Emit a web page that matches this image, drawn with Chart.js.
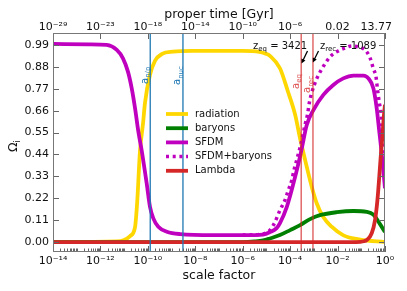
<!DOCTYPE html>
<html>
<head>
<meta charset="utf-8">
<script src="https://cdn.jsdelivr.net/npm/chart.js@4.4.1/dist/chart.umd.min.js"></script>
<style>
  html, body { margin: 0; padding: 0; background: #fff; }
  canvas { display: block; }
</style>
</head>
<body>
<canvas id="omega" width="407" height="291"></canvas>
<script>
// ── Data: log10(scale factor) and density parameter ──
const radiationLogA = [-14, -11.3, -11, -10.75, -10.54, -10.45, -10.33, -10.2, -10.12, -9.91, -9.7, -9.4, -8.94, -8.1, -6, -5.3, -5.0, -4.85, -4.43, -4.09, -3.79, -3.58, -3.3, -3.09, -2.88, -2.61, -2.25, -1.77, -1.05, 0];
const radiationVals = [0, 0.003, 0.01, 0.03, 0.075, 0.2, 0.46, 0.6, 0.7, 0.84, 0.91, 0.945, 0.956, 0.96, 0.96, 0.955, 0.945, 0.935, 0.873, 0.755, 0.64, 0.52, 0.378, 0.278, 0.195, 0.127, 0.077, 0.035, 0.012, 0];

const baryonLogA = [-14, -6, -5.5, -5.14, -4.85, -4.43, -4.0, -3.58, -3.16, -2.74, -2.03, -1.33, -0.77, -0.49, -0.21, 0];
const baryonVals = [0, 0, 0.003, 0.008, 0.018, 0.035, 0.06, 0.085, 0.115, 0.135, 0.15, 0.156, 0.152, 0.138, 0.09, 0.05];

const sfdmLogA = [-14, -12.5, -11.74, -11.31, -11.05, -10.84, -10.68, -10.54, -10.4, -10.26, -10.05, -9.91, -9.77, -9.56, -9.2, -8.64, -7.25, -5.5, -5.14, -4.85, -4.57, -4.43, -4.14, -3.86, -3.65, -3.51, -3.3, -3.02, -2.6, -2.18, -1.76, -1.33, -0.91, -0.7, -0.49, -0.35, -0.24, -0.17, -0.07, 0];
const sfdmVals = [0.995, 0.993, 0.99, 0.965, 0.923, 0.856, 0.772, 0.672, 0.554, 0.46, 0.295, 0.177, 0.119, 0.077, 0.052, 0.04, 0.035, 0.035, 0.037, 0.05, 0.07, 0.095, 0.177, 0.295, 0.395, 0.47, 0.588, 0.663, 0.739, 0.789, 0.822, 0.836, 0.836, 0.822, 0.772, 0.672, 0.554, 0.48, 0.36, 0.27];

const sfdmBaryonLogA = [-6, -5.2, -4.85, -4.64, -4.43, -4.22, -4.08, -3.93, -3.84, -3.75, -3.65, -3.55, -3.37, -3.27, -3.19, -3.09, -2.88, -2.71, -2.32, -1.97, -1.68, -1.4, -1.12, -0.84, -0.63, -0.49, -0.38, -0.32, -0.24, -0.17, -0.14, -0.07, 0];
const sfdmBaryonVals = [0.035, 0.04, 0.06, 0.1, 0.16, 0.21, 0.26, 0.31, 0.36, 0.4, 0.445, 0.49, 0.59, 0.64, 0.7, 0.75, 0.82, 0.86, 0.93, 0.96, 0.975, 0.985, 0.98, 0.965, 0.925, 0.87, 0.83, 0.77, 0.7, 0.65, 0.6, 0.45, 0.32];

const lambdaLogA = [-14, -1.2, -0.9, -0.77, -0.56, -0.42, -0.32, -0.24, -0.17, -0.11, -0.05, 0];
const lambdaVals = [0, 0, 0.004, 0.01, 0.044, 0.11, 0.21, 0.33, 0.445, 0.53, 0.63, 0.69];

// ── Axes ──
const yTickVals = [0, 0.11, 0.22, 0.33, 0.44, 0.55, 0.66, 0.77, 0.88, 0.99];
const xTickExps = [-14, -12, -10, -8, -6, -4, -2, 0];
const timeLabels = ['10^-29', '10^-23', '10^-18', '10^-14', '10^-10', '10^-6', '0.02', '13.77'];

// ── Event markers (log10 a) ──
const markerLogA = [-9.9, -8.52, Math.log10(1 / 3422), Math.log10(1 / 1090)];
const markerNames = [['a', 'n/p'], ['a', 'nuc'], ['a', 'eq'], ['a', 'rec']];
const markerColors = ['#1f77b4', '#1f77b4', 'rgba(214,39,40,0.8)', 'rgba(214,39,40,0.8)'];
const markerLabelBottom = [84, 85, 89, 93];

const FONT = '"DejaVu Sans", sans-serif';
const SUP = { '-': '⁻', '0': '⁰', '1': '¹', '2': '²', '3': '³', '4': '⁴', '5': '⁵', '6': '⁶', '7': '⁷', '8': '⁸', '9': '⁹' };
const supStr = s => s.split('').map(c => SUP[c] || c).join('');
const fmtPow = s => s.includes('^') ? s.split('^')[0] + supStr(s.split('^')[1]) : s;

const toPts = (logs, vals) => logs.map((l, i) => ({ x: Math.pow(10, l), y: vals[i] }));

function series(label, logs, vals, color, order, dash) {
  return {
    label,
    data: toPts(logs, vals),
    borderColor: color,
    backgroundColor: color,
    borderWidth: dash ? 3.5 : 3.8,
    borderDash: dash || [],
    borderCapStyle: 'butt',
    pointRadius: 0,
    cubicInterpolationMode: 'monotone',
    fill: false,
    order
  };
}

// text with a subscript, baseline at (x, y)
function subText(ctx, x, y, base, sub, rest, size) {
  ctx.font = `${size}px ${FONT}`;
  ctx.fillText(base, x, y);
  x += ctx.measureText(base).width;
  ctx.font = `${size * 0.7}px ${FONT}`;
  ctx.fillText(sub, x, y + size * 0.25);
  x += ctx.measureText(sub).width;
  if (rest) {
    ctx.font = `${size}px ${FONT}`;
    ctx.fillText(rest, x, y);
  }
}

function arrow(ctx, x1, y1, x2, y2) {
  const ang = Math.atan2(y2 - y1, x2 - x1);
  ctx.beginPath();
  ctx.moveTo(x1, y1);
  ctx.lineTo(x2 - 3 * Math.cos(ang), y2 - 3 * Math.sin(ang));
  ctx.stroke();
  ctx.beginPath();
  ctx.moveTo(x2, y2);
  ctx.lineTo(x2 - 5 * Math.cos(ang - 0.45), y2 - 5 * Math.sin(ang - 0.45));
  ctx.lineTo(x2 - 5 * Math.cos(ang + 0.45), y2 - 5 * Math.sin(ang + 0.45));
  ctx.closePath();
  ctx.fill();
}

// ── Extra drawing: markers, inward ticks, frame, legend, notes ──
const decorations = {
  id: 'decorations',
  afterDatasetsDraw(chart) {
    const { ctx, chartArea: a, scales: { x } } = chart;
    ctx.save();
    markerLogA.forEach((l, i) => {
      const px = x.getPixelForValue(Math.pow(10, l));
      ctx.strokeStyle = markerColors[i];
      ctx.lineWidth = 1.3;
      ctx.beginPath();
      ctx.moveTo(px, a.top);
      ctx.lineTo(px, a.bottom);
      ctx.stroke();
      ctx.save();
      ctx.translate(px - 2.5, markerLabelBottom[i]);
      ctx.rotate(-Math.PI / 2);
      ctx.fillStyle = markerColors[i];
      ctx.textBaseline = 'alphabetic';
      subText(ctx, 0, 0, markerNames[i][0], markerNames[i][1], '', 10);
      ctx.restore();
    });
    ctx.restore();
  },
  afterDraw(chart) {
    const { ctx, chartArea: a, scales: { x, y } } = chart;
    ctx.save();
    ctx.strokeStyle = '#666';
    ctx.lineWidth = 1;
    // y ticks, both sides
    yTickVals.forEach(v => {
      const py = Math.round(y.getPixelForValue(v)) + 0.5;
      ctx.beginPath();
      ctx.moveTo(a.left, py); ctx.lineTo(a.left + 6, py);
      ctx.moveTo(a.right, py); ctx.lineTo(a.right - 6, py);
      ctx.stroke();
    });
    // x ticks, bottom majors + minors, top majors
    for (let d = -14; d <= 0; d++) {
      for (let k = 1; k <= 9; k++) {
        if (d === 0 && k > 1) break;
        const px = Math.round(x.getPixelForValue(k * Math.pow(10, d))) + 0.5;
        const major = k === 1 && xTickExps.includes(d);
        ctx.beginPath();
        ctx.moveTo(px, a.bottom);
        ctx.lineTo(px, a.bottom - (major ? 6 : 3.5));
        if (major) { ctx.moveTo(px, a.top); ctx.lineTo(px, a.top + 6); }
        ctx.stroke();
      }
    }
    // frame
    ctx.strokeStyle = '#777';
    ctx.strokeRect(a.left + 0.5, a.top + 0.5, a.right - a.left - 1, a.bottom - a.top - 1);

    // top axis: proper time labels
    ctx.fillStyle = '#111';
    ctx.font = `11px ${FONT}`;
    ctx.textAlign = 'center';
    ctx.textBaseline = 'alphabetic';
    xTickExps.forEach((e, i) => {
      const txt = fmtPow(timeLabels[i]);
      const w = ctx.measureText(txt).width;
      const px = Math.min(x.getPixelForValue(Math.pow(10, e)), chart.width - 15 - w / 2);
      ctx.fillText(txt, px, 29.5);
    });
    ctx.textAlign = 'left';

    // legend
    ctx.textBaseline = 'middle';
    ctx.font = `10px ${FONT}`;
    chart.data.datasets.forEach((ds, i) => {
      const ly = 114 + i * 14.2;
      ctx.strokeStyle = ds.borderColor;
      ctx.lineWidth = ds.borderWidth;
      ctx.setLineDash(ds.borderDash);
      ctx.beginPath();
      ctx.moveTo(166, ly); ctx.lineTo(188, ly);
      ctx.stroke();
      ctx.setLineDash([]);
      ctx.fillStyle = '#111';
      ctx.fillText(ds.label, 195, ly);
    });

    // redshift notes with arrows
    ctx.textBaseline = 'alphabetic';
    ctx.fillStyle = '#111';
    subText(ctx, 253, 48.5, 'z', 'eq', ' = 3421', 10);
    subText(ctx, 320, 48.5, 'z', 'rec', ' = 1089', 10);
    ctx.strokeStyle = '#000';
    ctx.fillStyle = '#000';
    ctx.lineWidth = 1.3;
    arrow(ctx, 307.5, 51, 301.5, 63.5);
    arrow(ctx, 318.5, 51, 312.8, 62.5);

    // y axis title
    ctx.save();
    ctx.translate(17, 146);
    ctx.rotate(-Math.PI / 2);
    ctx.fillStyle = '#111';
    subText(ctx, -6, 0, 'Ω', 'i', '', 12.5);
    ctx.restore();
    ctx.restore();
  }
};

const tickFont = { family: FONT, size: 11 };
const titleFont = { family: FONT, size: 12.5 };

new Chart(document.getElementById('omega'), {
  type: 'line',
  data: {
    datasets: [
      series('radiation', radiationLogA, radiationVals, '#FFD700', 5),
      series('baryons', baryonLogA, baryonVals, '#008000', 4),
      series('SFDM', sfdmLogA, sfdmVals, '#BF00BF', 3),
      series('SFDM+baryons', sfdmBaryonLogA, sfdmBaryonVals, '#BF00BF', 2, [3, 3.7]),
      series('Lambda', lambdaLogA, lambdaVals, '#D62728', 1)
    ]
  },
  options: {
    responsive: false,
    animation: false,
    devicePixelRatio: 1,
    layout: { padding: { left: 0, right: 22, top: 0, bottom: 0 } },
    plugins: { legend: { display: false }, tooltip: { enabled: false } },
    scales: {
      x: {
        type: 'logarithmic',
        position: 'bottom',
        min: 1e-14,
        max: 1,
        grid: { display: false, drawTicks: false },
        border: { display: false },
        afterBuildTicks: ax => { ax.ticks = xTickExps.map(e => ({ value: Math.pow(10, e) })); },
        afterFit: ax => { ax.height = 39; },
        ticks: {
          autoSkip: false, maxRotation: 0, padding: 3, color: '#111', font: tickFont,
          callback: v => '10' + supStr(String(Math.round(Math.log10(v))))
        },
        title: { display: true, text: 'scale factor', color: '#111', font: titleFont, padding: { top: 0, bottom: 8 } }
      },
      x2: {
        type: 'logarithmic',
        position: 'top',
        min: 1e-14,
        max: 1,
        grid: { display: false, drawTicks: false },
        border: { display: false },
        afterFit: ax => { ax.height = 33; },
        ticks: { display: false },
        title: { display: true, text: 'proper time [Gyr]', color: '#111', font: titleFont, padding: { top: 7, bottom: 0 } }
      },
      y: {
        type: 'linear',
        min: -0.05,
        max: 1.05,
        grid: { display: false, drawTicks: false },
        border: { display: false },
        afterBuildTicks: ax => { ax.ticks = yTickVals.map(v => ({ value: v })); },
        afterFit: ax => { ax.width = 53; },
        ticks: { padding: 4, color: '#111', font: tickFont, callback: v => v.toFixed(2) }
      }
    }
  },
  plugins: [decorations]
});
</script>
</body>
</html>
